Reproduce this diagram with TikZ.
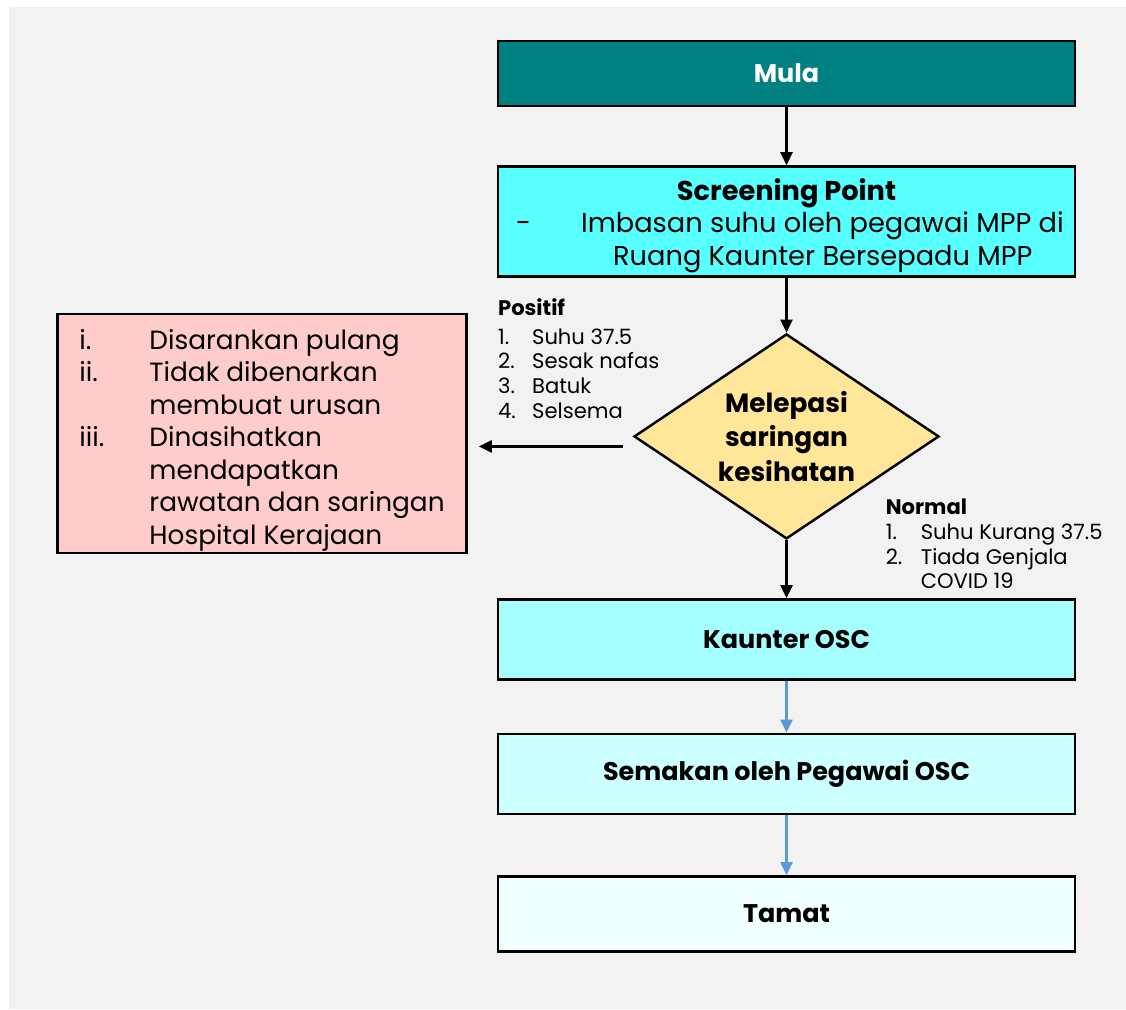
\documentclass[tikz,border=0pt]{standalone}
\usepackage{fontspec}
\setmainfont{Poppins}
\usepackage{array}
\usetikzlibrary{shapes.geometric, arrows.meta, positioning, calc}
\definecolor{mpbg}{RGB}{242,242,242}
\definecolor{mpteal}{RGB}{0,128,128}
\definecolor{mpcyan}{RGB}{88,255,255}
\definecolor{mpcyanlt}{RGB}{166,255,255}
\definecolor{mpcyanxl}{RGB}{204,255,255}
\definecolor{mpcyanpale}{RGB}{240,255,255}
\definecolor{mpyellow}{RGB}{255,230,153}
\definecolor{mppink}{RGB}{255,204,204}
\definecolor{mpblue}{RGB}{91,155,213}

\begin{document}
\begin{tikzpicture}[node distance=1.2cm,
  box/.style={rectangle, draw=black, line width=1.4pt, minimum width=11.54cm, align=center, font=\fontsize{14.5}{18}\selectfont\bfseries},
  decision/.style={diamond, draw=black, line width=1.4pt, fill=mpyellow, inner sep=0pt, aspect=1.5, minimum width=6.1cm, minimum height=4.1cm, align=center, font=\fontsize{15}{19.5}\selectfont\bfseries},
  note/.style={rectangle, draw=black, line width=1.4pt, fill=mppink, minimum width=8.18cm, minimum height=4.7cm, font=\fontsize{15}{18.5}\selectfont},
  cond/.style={inner sep=0pt, align=left, font=\fontsize{12}{14.2}\selectfont},
  arr/.style={-{Triangle[length=0.26cm, width=0.24cm]}, line width=1.3pt, draw=black},
  arrb/.style={-{Triangle[length=0.26cm, width=0.24cm]}, line width=1.3pt, draw=mpblue, fill=mpblue}
]
\useasboundingbox (0,0) rectangle (22.52,-20.18);
\fill[mpbg] (0.18,-0.14) rectangle (22.52,-20.18);

% main column
\node[box, fill=mpteal, text=white, minimum height=1.3cm] (mula) at (15.73,-1.47) {Mula};
\node[box, fill=mpcyan, minimum height=2.2cm, below=1.16cm of mula] (scr) {%
  \fontsize{15.5}{18.5}\selectfont
  \raisebox{-0.1cm}[\height][\depth]{%
  \begin{tabular}{@{}p{1.44cm}@{}l@{}}
  \multicolumn{2}{c}{\bfseries Screening Point}\\
  \mdseries\hspace{0.14cm}- & \mdseries Imbasan suhu oleh pegawai MPP di\\
   & \mdseries\hspace{0.64cm}Ruang Kaunter Bersepadu MPP
  \end{tabular}}};
\node[decision, below=1.1cm of scr] (dia) {Melepasi\\saringan\\kesihatan};
\node[box, fill=mpcyanlt, minimum height=1.6cm, below=1.16cm of dia] (osc) {Kaunter OSC};
\node[box, fill=mpcyanxl, minimum height=1.6cm, below=1.04cm of osc] (sem) {Semakan oleh Pegawai OSC};
\node[box, fill=mpcyanpale, minimum height=1.5cm, below=1.2cm of sem] (tamat) {Tamat};

% positif branch
\node[note, left=3.3cm of dia, yshift=0.06cm] (tolak) {%
  \raisebox{-0.14cm}[\height][\depth]{%
  \begin{tabular}{@{}p{1.4cm}@{}l@{}}
  i. & Disarankan pulang\\
  ii. & Tidak dibenarkan\\
   & membuat urusan\\
  iii. & Dinasihatkan\\
   & mendapatkan\\
   & rawatan dan saringan\\
   & Hospital Kerajaan
  \end{tabular}}};
\node[cond, anchor=south west] (positif) at ($(dia.west)+(-2.7,0.34)$) {%
  \textbf{Positif}\\[2pt]
  \makebox[0.68cm][l]{1.}Suhu 37.5\\
  \makebox[0.68cm][l]{2.}Sesak nafas\\
  \makebox[0.68cm][l]{3.}Batuk\\
  \makebox[0.68cm][l]{4.}Selsema};
\node[cond, anchor=north west] (normal) at ($(dia.south)+(1.98,0.84)$) {%
  \textbf{Normal}\\
  \makebox[0.7cm][l]{1.}Suhu Kurang 37.5\\
  \makebox[0.7cm][l]{2.}Tiada Genjala\\
  \makebox[0.7cm][l]{}COVID 19};

\draw[arr] (mula) -- (scr);
\draw[arr] (scr) -- (dia);
\draw[arr] (dia) -- (osc);
\draw[arrb] (osc) -- (sem);
\draw[arrb] (sem) -- (tamat);
\coordinate (tolakin) at ($(dia.west)+(0,-0.2)$);
\draw[arr, shorten <=0.2cm, shorten >=0.22cm] (tolakin) -- (tolakin -| tolak.east);
\end{tikzpicture}
\end{document}
